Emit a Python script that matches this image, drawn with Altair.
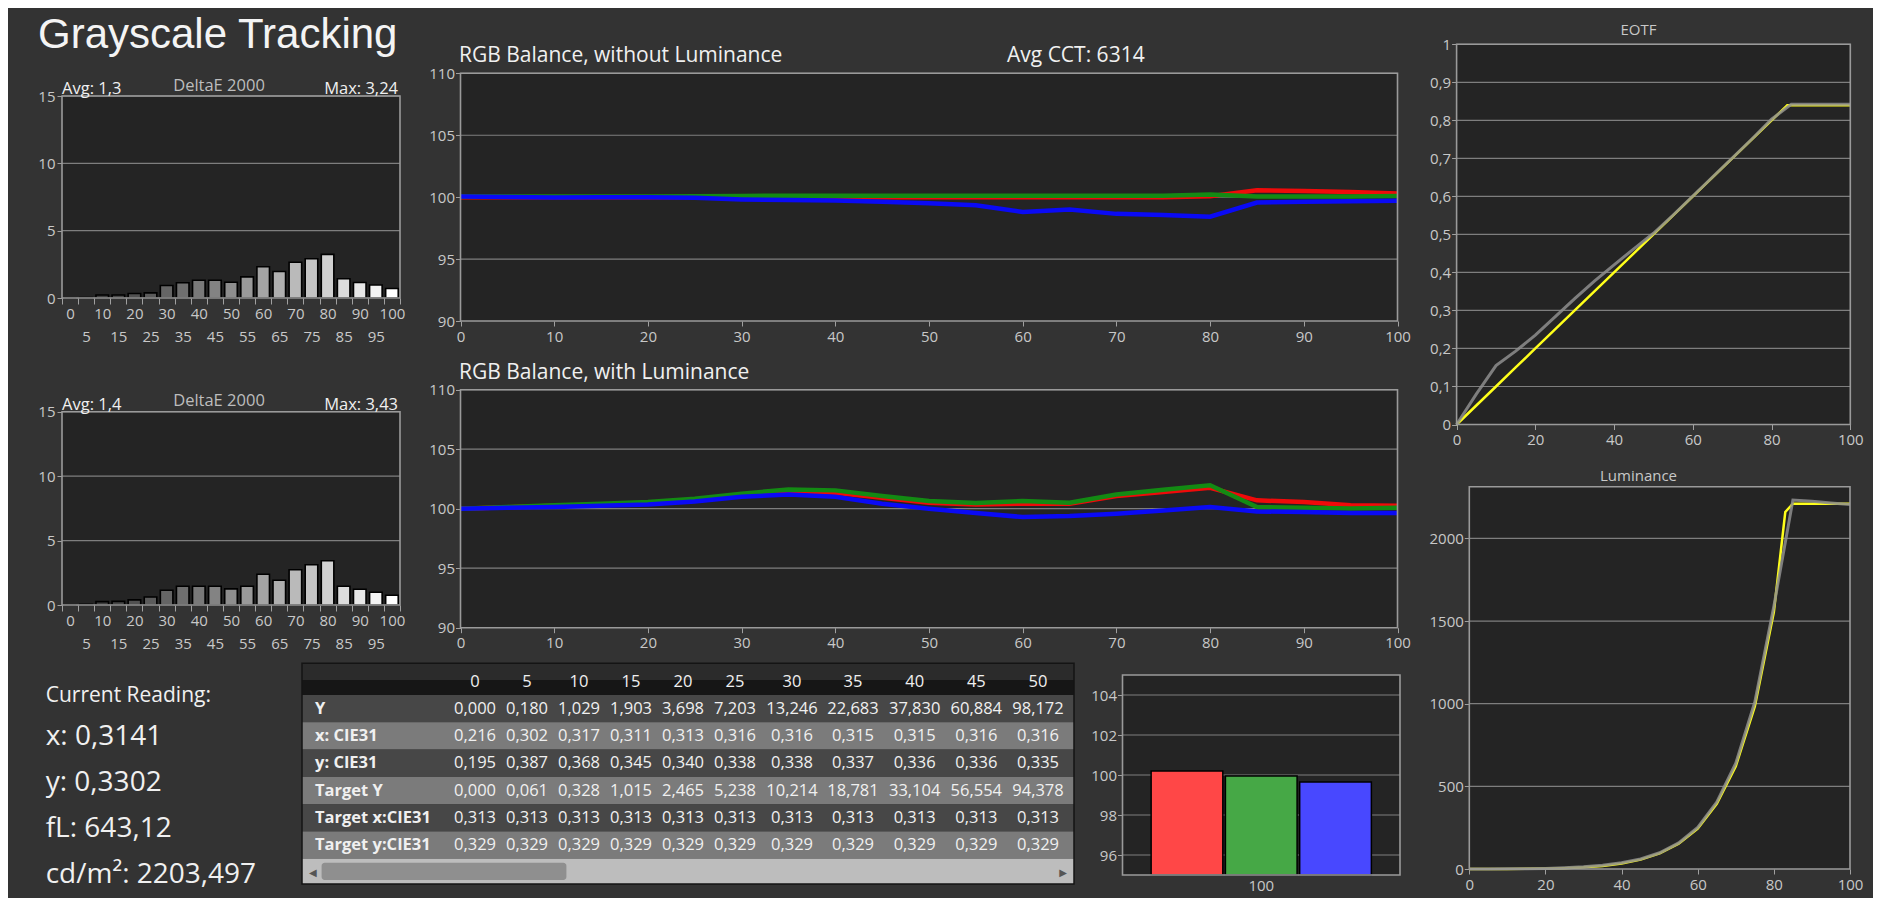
import altair as alt
import pandas as pd

# ---------------- data ----------------
LEVELS = [0, 5, 10, 15, 20, 25, 30, 35, 40, 45, 50, 55, 60, 65, 70, 75, 80, 85, 90, 95, 100]

DE1 = [0.0, 0.03, 0.22, 0.22, 0.33, 0.38, 0.93, 1.13, 1.32, 1.32, 1.17, 1.57, 2.32, 1.97, 2.66, 2.91, 3.24, 1.43, 1.15, 0.97, 0.70]
DE2 = [0.0, 0.05, 0.26, 0.28, 0.40, 0.62, 1.15, 1.46, 1.46, 1.46, 1.25, 1.46, 2.39, 1.92, 2.73, 3.12, 3.43, 1.46, 1.22, 0.99, 0.76]
DE1_AVG, DE1_MAX = "1,3", "3,24"
DE2_AVG, DE2_MAX = "1,4", "3,43"
DE_TICKS = [0, 5, 10, 15]

R1 = [100.0, 100.0, 100.0, 100.0, 100.0, 100.0, 100.0, 100.0, 100.0, 100.0, 100.0, 100.0, 100.0, 100.0, 100.0, 100.0, 100.08, 100.56, 100.5, 100.42, 100.3]
G1 = [100.05, 100.05, 100.05, 100.05, 100.05, 100.08, 100.1, 100.12, 100.12, 100.12, 100.12, 100.12, 100.12, 100.12, 100.12, 100.12, 100.22, 100.06, 100.05, 100.05, 100.1]
B1 = [100.05, 100.02, 99.98, 100.0, 100.0, 99.95, 99.82, 99.76, 99.72, 99.62, 99.5, 99.35, 98.8, 99.0, 98.65, 98.55, 98.42, 99.57, 99.62, 99.66, 99.7]

R2 = [100.0, 100.12, 100.25, 100.35, 100.45, 100.7, 101.15, 101.46, 101.34, 100.92, 100.5, 100.36, 100.42, 100.42, 101.06, 101.4, 101.75, 100.7, 100.56, 100.3, 100.25]
G2 = [100.0, 100.15, 100.28, 100.42, 100.56, 100.84, 101.26, 101.62, 101.54, 101.06, 100.64, 100.48, 100.64, 100.5, 101.2, 101.6, 101.97, 100.14, 100.08, 100.02, 100.08]
B2 = [100.0, 100.07, 100.14, 100.25, 100.36, 100.6, 101.0, 101.2, 101.0, 100.42, 100.0, 99.64, 99.3, 99.38, 99.58, 99.85, 100.14, 99.77, 99.72, 99.63, 99.63]
RGB_TICKS = [90, 95, 100, 105, 110]
RGB_XTICKS = [0, 10, 20, 30, 40, 50, 60, 70, 80, 90, 100]
AVG_CCT = "6314"

EOTF_T_LEVELS = [0, 5, 10, 15, 20, 25, 30, 35, 40, 45, 50, 55, 60, 65, 70, 75, 80, 84, 85, 90, 95, 100]
EOTF_T = [0.0, 0.05, 0.10, 0.15, 0.20, 0.25, 0.30, 0.35, 0.40, 0.45, 0.50, 0.55, 0.60, 0.65, 0.70, 0.75, 0.80, 0.84, 0.84, 0.84, 0.84, 0.84]
EOTF_M = [0.0, 0.08, 0.155, 0.193, 0.235, 0.283, 0.331, 0.377, 0.42, 0.462, 0.503, 0.551, 0.601, 0.651, 0.701, 0.751, 0.803, 0.842, 0.842, 0.842, 0.842]
EOTF_TICKS = [0, 0.1, 0.2, 0.3, 0.4, 0.5, 0.6, 0.7, 0.8, 0.9, 1.0]
XTICKS20 = [0, 20, 40, 60, 80, 100]

LUM_T_LEVELS = [0, 5, 10, 15, 20, 25, 30, 35, 40, 45, 50, 55, 60, 65, 70, 75, 80, 83, 85, 90, 95, 100]
LUM_T = [0, 0.06, 0.33, 1.0, 2.5, 5.2, 10.2, 18.8, 33.1, 56.6, 94.4, 153, 244, 394, 622, 983, 1555, 2160, 2210, 2210, 2210, 2210]
LUM_M = [0, 0.18, 1.03, 1.9, 3.7, 7.2, 13.2, 22.7, 37.8, 60.9, 98.2, 158, 252, 405, 640, 1010, 1590, 2232, 2225, 2215, 2205]
LUM_TICKS = [0, 500, 1000, 1500, 2000]
LUM_MAX = 2313

TBL_LEVELS = [0, 5, 10, 15, 20, 25, 30, 35, 40, 45, 50]
TBL_ROWS = ["Y", "x: CIE31", "y: CIE31", "Target Y", "Target x:CIE31", "Target y:CIE31"]
TBL_VALUES = {
    "Y": [0.000, 0.180, 1.029, 1.903, 3.698, 7.203, 13.246, 22.683, 37.830, 60.884, 98.172],
    "x: CIE31": [0.216, 0.302, 0.317, 0.311, 0.313, 0.316, 0.316, 0.315, 0.315, 0.316, 0.316],
    "y: CIE31": [0.195, 0.387, 0.368, 0.345, 0.340, 0.338, 0.338, 0.337, 0.336, 0.336, 0.335],
    "Target Y": [0.000, 0.061, 0.328, 1.015, 2.465, 5.238, 10.214, 18.781, 33.104, 56.554, 94.378],
    "Target x:CIE31": [0.313, 0.313, 0.313, 0.313, 0.313, 0.313, 0.313, 0.313, 0.313, 0.313, 0.313],
    "Target y:CIE31": [0.329, 0.329, 0.329, 0.329, 0.329, 0.329, 0.329, 0.329, 0.329, 0.329, 0.329],
}

SB_CH = ["R", "G", "B"]
SB_VAL = [100.2, 99.95, 99.65]
SB_TICKS = [96, 98, 100, 102, 104]
SB_LABEL = "100"

MAIN_TITLE = "Grayscale Tracking"
CUR_TITLE = "Current Reading:"
CUR_LINES = ["x: 0,3141", "y: 0,3302", "fL: 643,12", "cd/m²: 2203,497"]

# ---------------- layout / style ----------------
W, H = 1865, 890
FONT = "Open Sans"
TITLE_FONT = "Liberation Sans"
PAGE_BG = "#333333"
PLOT_BG = "#242424"
GRID_C = "#7e7e7e"
FRAME_C = "#9a9a9a"
LABEL_C = "#c8c8c8"
TEXT_C = "#f0f0f0"
RED, GREEN, BLUE = "#f00a0a", "#138a13", "#0a0af5"
YELLOW, GRAY = "#ffff1a", "#8e8e8e"
SB_COLORS = ["#ff4747", "#46a846", "#4848ff"]
ROW_FILLS = ["#474747", "#7b7b7b", "#474747", "#7b7b7b", "#474747", "#7b7b7b"]

BOX_DE1 = (54, 392, 88, 290)
BOX_DE2 = (54, 392, 403.7, 597)
BOX_RGB1 = (452.5, 1389.5, 65.3, 313)
BOX_RGB2 = (452.5, 1389.5, 381.7, 619.7)
BOX_EOTF = (1448.6, 1842.3, 36.3, 416.5)
BOX_LUM = (1461.3, 1842, 478.7, 861)
BOX_SB = (1114.5, 1392, 667, 867)
TBL_X = (294, 1066)
TBL_HEAD = (655.3, 672, 687)
TBL_BODY = (687, 850.8)
TBL_SCROLL = (850.8, 876)
TBL_COL_DOMAIN = [0, 25, 30, 35, 50]
TBL_COL_RANGE = [467, 727, 784, 845, 1030]

ONE = pd.DataFrame({"k": [0]})


def rect_at(x0, x1, y0, y1, **kw):
    return alt.Chart(ONE).mark_rect(**kw).encode(
        x=alt.value(x0), x2=alt.value(x1), y=alt.value(y0), y2=alt.value(y1))


def label(text, x, y, size=15, color=TEXT_C, align="left", weight="normal", font=FONT):
    return alt.Chart(ONE).mark_text(
        text=text, font=font, fontSize=size, color=color, align=align,
        baseline="alphabetic", fontWeight=weight).encode(x=alt.value(x), y=alt.value(y))


def x_axis(box, **kw):
    base = dict(orient="bottom", offset=box[3] - H, title=None, labelAngle=0,
                labelFlush=False, labelOverlap=False, grid=False, domain=False, labelPadding=3)
    base.update(kw)
    return alt.Axis(**base)


def y_axis(box, **kw):
    base = dict(orient="left", offset=-box[0], title=None, labelFlush=False,
                labelOverlap=False, grid=False, domain=False, labelPadding=2)
    base.update(kw)
    return alt.Axis(**base)


def grid(vals, box, yscale, yaxis):
    return alt.Chart(pd.DataFrame({"g": vals})).mark_rule(color=GRID_C, strokeWidth=1.2).encode(
        y=alt.Y("g:Q", scale=yscale, axis=yaxis), x=alt.value(box[0]), x2=alt.value(box[1]))


def bg(box):
    return rect_at(box[0], box[1], box[2], box[3], color=PLOT_BG)


def frame(box):
    return rect_at(box[0], box[1], box[2], box[3], fillOpacity=0, stroke=FRAME_C, strokeWidth=1.6)


def delta_panel(vals, box, avg, mx):
    x0, x1, y0, y1 = box
    xs = alt.Scale(type="band", domain=LEVELS, range=[x0, x1], paddingInner=0, paddingOuter=0)
    ys = alt.Scale(domain=[0, 15], range=[y1, y0], nice=False, zero=True)
    ya = y_axis(box, values=DE_TICKS, format="d")
    xa = x_axis(box, tickBand="extent", tickSize=6, labelPadding=2, labelLineHeight=23,
                labelExpr="datum.value % 10 == 0 ? datum.label : ['', datum.label]")
    df = pd.DataFrame({"level": LEVELS, "de": vals})
    bars = alt.Chart(df).mark_bar(width={"band": 0.78}, stroke="#000000", strokeWidth=1.6).encode(
        x=alt.X("level:O", scale=xs, axis=xa),
        y=alt.Y("de:Q", scale=ys, axis=ya),
        color=alt.Color("level:Q", scale=alt.Scale(domain=[0, 100], range=["#2c2c2c", "#ffffff"]), legend=None),
    )
    return alt.layer(
        bg(box), grid(DE_TICKS[1:], box, ys, ya), bars, frame(box),
        label(f"Avg: {avg}", x0, y0 - 2, size=16.5),
        label("DeltaE 2000", 211, y0 - 5.5, size=16.5, color="#bdbdbd", align="center"),
        label(f"Max: {mx}", x1 - 2, y0 - 2, size=16.5, align="right"),
    )


def rgb_panel(series, box, title, extra=None):
    x0, x1, y0, y1 = box
    xs = alt.Scale(domain=[0, 100], range=[x0, x1], nice=False, zero=False)
    ys = alt.Scale(domain=[90, 110], range=[y1, y0], nice=False, zero=False)
    xa = x_axis(box, values=RGB_XTICKS, format="d")
    ya = y_axis(box, values=RGB_TICKS, format="d", labelPadding=1)
    layers = [bg(box), grid(RGB_TICKS[1:], box, ys, ya)]
    for vals, col in series:
        df = pd.DataFrame({"level": LEVELS, "v": vals})
        layers.append(alt.Chart(df).mark_line(color=col, strokeWidth=4.5).encode(
            x=alt.X("level:Q", scale=xs, axis=xa), y=alt.Y("v:Q", scale=ys, axis=ya)))
    layers.append(frame(box))
    layers.append(label(title, x0 - 1.5, y0 - 11, size=21))
    if extra:
        layers.append(label(extra, 999, y0 - 11, size=21))
    return alt.layer(*layers)


def curve_panel(box, ydom, yticks, tgt_x, tgt_y, meas_y, title, title_y, yfmt, ylabel_expr=None):
    x0, x1, y0, y1 = box
    xs = alt.Scale(domain=[0, 100], range=[x0, x1], nice=False, zero=False)
    ys = alt.Scale(domain=ydom, range=[y1, y0], nice=False, zero=False)
    yk = dict(values=yticks, format=yfmt, labelPadding=1)
    if ylabel_expr:
        yk["labelExpr"] = ylabel_expr
    xa = x_axis(box, values=XTICKS20, format="d")
    ya = y_axis(box, **yk)
    tdf = pd.DataFrame({"level": tgt_x, "v": tgt_y})
    mdf = pd.DataFrame({"level": LEVELS, "v": meas_y})
    target = alt.Chart(tdf).mark_line(color=YELLOW, strokeWidth=2.5).encode(
        x=alt.X("level:Q", scale=xs, axis=xa), y=alt.Y("v:Q", scale=ys, axis=ya))
    meas = alt.Chart(mdf).mark_line(color=GRAY, strokeWidth=3, opacity=0.85).encode(
        x=alt.X("level:Q", scale=xs, axis=xa), y=alt.Y("v:Q", scale=ys, axis=ya))
    grid_vals = [v for v in yticks if v > ydom[0]]
    return alt.layer(
        bg(box), grid(grid_vals, box, ys, ya), target, meas, frame(box),
        label(title, 1630.5, title_y, size=15, color=LABEL_C, align="center"),
    )


def small_bars(box):
    x0, x1, y0, y1 = box
    xs = alt.Scale(type="band", domain=[SB_LABEL], range=[x0, x1], paddingInner=0, paddingOuter=0.13)
    ys = alt.Scale(domain=[95, 105], range=[y1, y0], nice=False, zero=False)
    ya = y_axis(box, values=SB_TICKS, format="d", labelPadding=1)
    df = pd.DataFrame({"level": [SB_LABEL] * 3, "ch": SB_CH, "v": SB_VAL})
    bars = alt.Chart(df).mark_bar(stroke="#000000", strokeWidth=1.5).encode(
        x=alt.X("level:N", scale=xs, axis=x_axis(box, ticks=False, labelPadding=3)),
        xOffset=alt.XOffset("ch:N", scale=alt.Scale(domain=SB_CH, paddingInner=0.035, paddingOuter=0)),
        y=alt.Y("v:Q", scale=ys, axis=ya),
        y2=alt.datum(95),
        color=alt.Color("ch:N", scale=alt.Scale(domain=SB_CH, range=SB_COLORS), legend=None),
    )
    return alt.layer(bg(box), grid(SB_TICKS, box, ys, ya), bars, frame(box))


def table():
    xs = alt.Scale(domain=TBL_COL_DOMAIN, range=TBL_COL_RANGE, nice=False, zero=False)
    ys = alt.Scale(type="band", domain=TBL_ROWS, range=[TBL_BODY[0], TBL_BODY[1]],
                   paddingInner=0, paddingOuter=0)
    rows_df = pd.DataFrame({"row": TBL_ROWS})
    row_bg = alt.Chart(rows_df).mark_rect().encode(
        y=alt.Y("row:N", scale=ys, axis=None),
        x=alt.value(TBL_X[0]), x2=alt.value(TBL_X[1]),
        color=alt.Color("row:N", scale=alt.Scale(domain=TBL_ROWS, range=ROW_FILLS), legend=None))
    cells = []
    for r in TBL_ROWS:
        for lv, v in zip(TBL_LEVELS, TBL_VALUES[r]):
            cells.append({"row": r, "level": lv, "txt": f"{v:.3f}".replace(".", ",")})
    cell_text = alt.Chart(pd.DataFrame(cells)).mark_text(
        font=FONT, fontSize=16.5, color=TEXT_C, align="center", baseline="middle").encode(
        x=alt.X("level:Q", scale=xs, axis=None), y=alt.Y("row:N", scale=ys, axis=None), text="txt:N")
    row_lab = alt.Chart(rows_df).mark_text(
        font=FONT, fontSize=16.5, color=TEXT_C, align="left", baseline="middle", fontWeight="bold").encode(
        x=alt.value(307), y=alt.Y("row:N", scale=ys, axis=None), text="row:N")
    hdf = pd.DataFrame({"level": TBL_LEVELS, "lab": [str(v) for v in TBL_LEVELS]})
    head = alt.Chart(hdf).mark_text(
        font=FONT, fontSize=16.5, color=TEXT_C, align="center", baseline="middle").encode(
        x=alt.X("level:Q", scale=xs, axis=None), y=alt.value(674), text="lab:N")
    return alt.layer(
        rect_at(TBL_X[0], TBL_X[1], TBL_HEAD[0], TBL_HEAD[1], color="#2b2b2b"),
        rect_at(TBL_X[0], TBL_X[1], TBL_HEAD[1], TBL_HEAD[2], color="#161616"),
        row_bg,
        rect_at(TBL_X[0], TBL_X[1], TBL_SCROLL[0], TBL_SCROLL[1], color="#bdbdbd"),
        rect_at(313.6, 558.4, TBL_SCROLL[0] + 4, TBL_SCROLL[1] - 4, color="#8f8f8f", cornerRadius=3),
        label("◀", 301, TBL_SCROLL[1] - 8, size=10, color="#555555", font="DejaVu Sans"),
        label("▶", 1059, TBL_SCROLL[1] - 8, size=10, color="#555555", font="DejaVu Sans", align="right"),
        rect_at(TBL_X[0], TBL_X[1], TBL_HEAD[0], TBL_SCROLL[1], fillOpacity=0, stroke="#141414", strokeWidth=1.5),
        head, row_lab, cell_text,
    )


layers = [
    label(MAIN_TITLE, 30, 40, size=42, color="#f4f4f4", font=TITLE_FONT),
    delta_panel(DE1, BOX_DE1, DE1_AVG, DE1_MAX),
    delta_panel(DE2, BOX_DE2, DE2_AVG, DE2_MAX),
    rgb_panel([(R1, RED), (G1, GREEN), (B1, BLUE)], BOX_RGB1,
              "RGB Balance, without Luminance", f"Avg CCT: {AVG_CCT}"),
    rgb_panel([(R2, RED), (G2, GREEN), (B2, BLUE)], BOX_RGB2, "RGB Balance, with Luminance"),
    curve_panel(BOX_EOTF, [0, 1], EOTF_TICKS, EOTF_T_LEVELS, EOTF_T, EOTF_M, "EOTF", 26.5, ".1~f",
                "replace(datum.label, '.', ',')"),
    curve_panel(BOX_LUM, [0, LUM_MAX], LUM_TICKS, LUM_T_LEVELS, LUM_T, LUM_M, "Luminance", 472.5, "d"),
    small_bars(BOX_SB),
    table(),
    label(CUR_TITLE, 37.7, 693.7, size=21),
]
for i, line in enumerate(CUR_LINES):
    layers.append(label(line, 37.7, 737 + 46 * i, size=28))

chart = alt.layer(*layers).resolve_scale(
    x="independent", y="independent", color="independent"
).properties(
    width=W, height=H, padding=0, background=PAGE_BG,
    autosize=alt.AutoSizeParams(type="none"),
).configure_view(strokeWidth=0).configure_axis(
    labelFont=FONT, labelFontSize=15, labelColor=LABEL_C, tickColor="#a0a0a0", tickSize=5, tickWidth=1
)

chart.save("out.html", embed_options={"renderer": "svg", "actions": False})
